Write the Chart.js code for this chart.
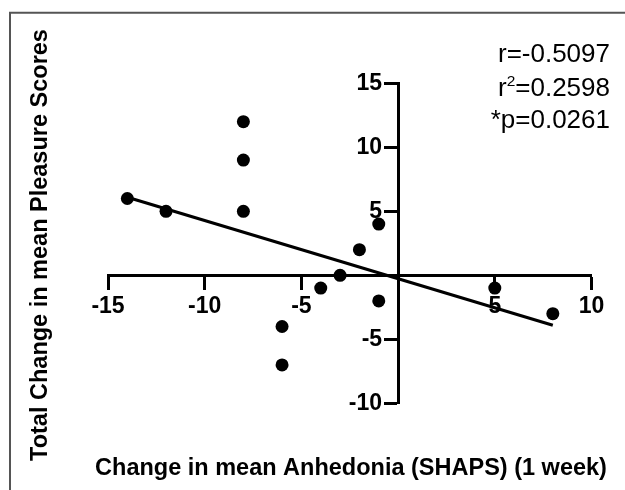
<!DOCTYPE html>
<html><head><meta charset="utf-8">
<script src="https://cdn.jsdelivr.net/npm/chart.js@4.4.0/dist/chart.umd.min.js"></script>
<style>html,body{margin:0;padding:0;background:#fff;}#wrap{width:625px;height:490px;}</style>
</head><body><div id="wrap"><canvas id="c" width="625" height="490"></canvas></div>
<script>
// ---- data ----
const xValues = [-14, -12, -8, -8, -8, -6, -6, -4, -3, -2, -1, -1, 5, 8];
const yValues = [6, 5, 12, 9, 5, -4, -7, -1, 0, 2, 4, -2, -1, -3];
const fitX = [-14, 8];
const fitY = [6.1, -3.9];
const xTicks = [-15, -10, -5, 0, 5, 10];
const yTicks = [-10, -5, 0, 5, 10, 15];
const xTitle = 'Change in mean Anhedonia (SHAPS) (1 week)';
const yTitle = 'Total Change in mean Pleasure Scores';
const statR = 'r=-0.5097';
const statR2 = '=0.2598';
const statP = '*p=0.0261';

const FONT = "'Liberation Sans', Arial, Helvetica, sans-serif";
const TICK_LEN = 13;
const Y_LABEL_GAP = 3;

const points = xValues.map((x, i) => ({x, y: yValues[i]}));
const fitLine = fitX.map((x, i) => ({x, y: fitY[i]}));

const decor = {
  id: 'decor',
  beforeDraw(chart) {
    const ctx = chart.ctx;
    // y-axis labels sit left of the tick marks (crossing axis)
    const ys = chart.scales.y;
    const items = ys.getLabelItems(chart.chartArea);
    if (!ys._shifted) {
      items.forEach(it => { it.options.translation[0] -= (TICK_LEN + Y_LABEL_GAP); });
      ys._shifted = true;
    }
    ctx.save();
    ctx.strokeStyle = '#555';
    ctx.lineWidth = 2;
    ctx.beginPath();
    ctx.moveTo(10, 490); ctx.lineTo(10, 12.7); ctx.lineTo(625, 12.7);
    ctx.stroke();
    ctx.restore();
  },
  afterDraw(chart) {
    const ctx = chart.ctx;
    ctx.save();
    ctx.fillStyle = '#000';
    ctx.font = "bold 23.5px " + FONT;
    ctx.textAlign = 'center';
    ctx.textBaseline = 'alphabetic';
    ctx.fillText(xTitle, 351, 475);
    ctx.save();
    ctx.translate(46.7, 245);
    ctx.rotate(-Math.PI / 2);
    ctx.fillText(yTitle, 0, 0);
    ctx.restore();
    ctx.font = "26px " + FONT;
    ctx.textAlign = 'right';
    const R = 610;
    ctx.fillText(statR, R, 61.5);
    const w1 = ctx.measureText(statR2).width;
    ctx.fillText(statR2, R, 95.5);
    ctx.font = "15.5px " + FONT;
    const ws = ctx.measureText('2').width;
    ctx.fillText('2', R - w1, 86);
    ctx.font = "26px " + FONT;
    ctx.fillText('r', R - w1 - ws, 95.5);
    ctx.fillText(statP, R, 128);
    ctx.restore();
  }
};

const tickCol = (c) => (c.tick && c.tick.value === 0) ? 'rgba(0,0,0,0)' : '#000';

new Chart(document.getElementById('c'), {
  type: 'scatter',
  data: {
    datasets: [
      {
        data: fitLine,
        showLine: true,
        borderColor: '#000',
        borderWidth: 3,
        pointRadius: 0,
        pointHoverRadius: 0,
        fill: false
      },
      {
        data: points,
        backgroundColor: '#000',
        borderColor: '#000',
        borderWidth: 0,
        pointRadius: 6.5,
        pointHoverRadius: 6.5
      }
    ]
  },
  options: {
    responsive: false,
    devicePixelRatio: 1,
    animation: false,
    events: [],
    layout: { padding: { left: 108, right: 33.5, top: 83.3, bottom: 86.7 } },
    plugins: { legend: { display: false }, tooltip: { enabled: false }, title: { display: false } },
    scales: {
      x: {
        type: 'linear',
        min: -15, max: 10,
        position: { y: 0 },
        afterBuildTicks(scale) { scale.ticks = xTicks.map(v => ({value: v})); },
        grid: { drawOnChartArea: false, drawTicks: true, tickLength: TICK_LEN, tickWidth: 3, tickColor: tickCol },
        border: { display: true, color: '#000', width: 3 },
        ticks: {
          color: '#000', padding: 5, maxRotation: 0, autoSkip: false,
          font: { family: FONT, weight: 'bold', size: 23 },
          callback: (v) => v === 0 ? '' : String(v)
        }
      },
      y: {
        type: 'linear',
        min: -10, max: 15,
        position: { x: 0 },
        afterBuildTicks(scale) { scale.ticks = yTicks.map(v => ({value: v})); },
        grid: { drawOnChartArea: false, drawTicks: true, tickLength: TICK_LEN, tickWidth: 3, tickColor: tickCol },
        border: { display: true, color: '#000', width: 3 },
        ticks: {
          color: '#000', padding: 3, autoSkip: false,
          font: { family: FONT, weight: 'bold', size: 23 },
          callback: (v) => v === 0 ? '' : String(v)
        }
      }
    }
  },
  plugins: [decor]
});
</script>
</body></html>
